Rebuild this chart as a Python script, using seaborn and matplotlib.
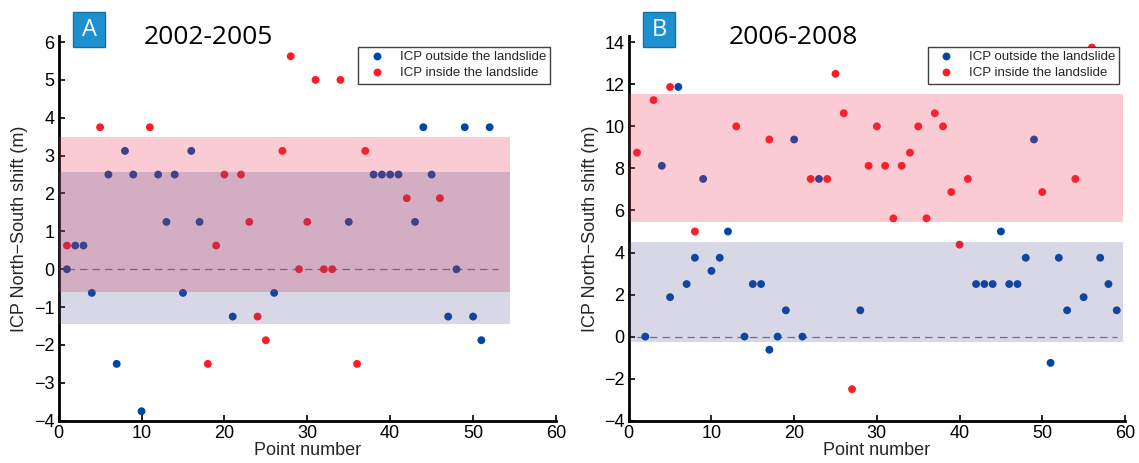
import numpy as np
import pandas as pd
import matplotlib
matplotlib.use("Agg")
import matplotlib.pyplot as plt
import seaborn as sns
from matplotlib.patches import Rectangle

# ---------------- data ----------------
# Panel A (2002-2005)
a_out_x = [1, 2, 3, 4, 6, 7, 8, 9, 10, 12, 13, 14, 15, 16, 17, 21, 26, 35, 38, 39,
           40, 41, 43, 44, 45, 47, 48, 49, 50, 51, 52, 53]
a_out_y = [0, 0.625, 0.625, -0.625, 2.5, -2.5, 3.125, 2.5, -3.75, 2.5, 1.25, 2.5, -0.625,
           3.125, 1.25, -1.25, -0.625, 1.25, 2.5, 2.5, 2.5, 2.5, 1.25, 3.75, 2.5, -1.25, 0,
           3.75, -1.25, -1.875, 3.75, 5]
a_in_x = [1, 5, 11, 18, 19, 20, 22, 23, 24, 25, 27, 28, 29, 30, 31, 32, 33, 34, 36, 37, 42, 46]
a_in_y = [0.625, 3.75, 3.75, -2.5, 0.625, 2.5, 2.5, 1.25, -1.25, -1.875, 3.125, 5.625, 0,
          1.25, 5, 0, 0, 5, -2.5, 3.125, 1.875, 1.875]
# Panel B (2006-2008)
b_out_x = [2, 4, 5, 6, 7, 8, 9, 10, 11, 12, 14, 15, 16, 17, 18, 19, 20, 21, 23, 28,
           42, 43, 44, 45, 46, 47, 48, 49, 51, 52, 53, 55, 57, 58, 59]
b_out_y = [0, 8.125, 1.875, 11.875, 2.5, 3.75, 7.5, 3.125, 3.75, 5, 0, 2.5, 2.5, -0.625, 0,
           1.25, 9.375, 0, 7.5, 1.25, 2.5, 2.5, 2.5, 5, 2.5, 2.5, 3.75, 9.375, -1.25, 3.75,
           1.25, 1.875, 3.75, 2.5, 1.25]
b_in_x = [1, 3, 5, 8, 13, 17, 22, 24, 25, 26, 27, 29, 30, 31, 32, 33, 34, 35, 36, 37, 38,
          39, 40, 41, 50, 54, 56]
b_in_y = [8.75, 11.25, 11.875, 5, 10, 9.375, 7.5, 7.5, 12.5, 10.625, -2.5, 8.125, 10, 8.125,
          5.625, 8.125, 8.75, 10, 5.625, 10.625, 10, 6.875, 4.375, 7.5, 6.875, 7.5, 13.75]

# band limits (m) and extents
a_in_band = (-0.59, 3.48)
a_out_band = (-1.455, 2.57)
a_band_end = 54.4
b_in_band = (5.43, 11.54)
b_out_band = (-0.27, 4.48)
b_band_end = 59.7

titles = ["2002-2005", "2006-2008"]
letters = ["A", "B"]
labels = ["ICP outside the landslide", "ICP inside the landslide"]

BLUE = "#0046a6"
RED = "#ff1c24"

sns.set_theme(style="white")
plt.rcParams["font.family"] = ["Liberation Sans", "DejaVu Sans"]

fig = plt.figure(figsize=(11.39, 4.63), dpi=100)
axA = fig.add_axes([0.0515, 0.0914, 0.4366, 0.8309])
axB = fig.add_axes([0.5520, 0.0914, 0.4357, 0.8309])

panels = [
    (axA, a_out_x, a_out_y, a_in_x, a_in_y, a_in_band, a_out_band, a_band_end, (-4, 6.16),
     [-4, -3, -2, -1, 0, 1, 2, 3, 4, 5, 6]),
    (axB, b_out_x, b_out_y, b_in_x, b_in_y, b_in_band, b_out_band, b_band_end, (-4, 14.3),
     [-4, -2, 0, 2, 4, 6, 8, 10, 12, 14]),
]

for i, (ax, ox, oy, ix, iy, inb, outb, bend, ylim, yt) in enumerate(panels):
    df = pd.DataFrame({
        "x": list(ox) + list(ix),
        "y": list(oy) + list(iy),
        "grp": [labels[0]] * len(ox) + [labels[1]] * len(ix),
    })
    allx = df["x"]
    ax.plot([allx.min(), allx.max()], [0, 0], ls=(0, (6, 4)), color="#7a7a7a",
            lw=0.9, zorder=1)
    sns.scatterplot(data=df, x="x", y="y", hue="grp", hue_order=labels,
                    palette=[BLUE, RED], s=32, linewidth=0, ax=ax, zorder=2)
    ax.fill_between([0, bend], inb[0], inb[1], color="#ec3050", alpha=0.25,
                    lw=0, zorder=3)
    ax.fill_between([0, bend], outb[0], outb[1], color="#4a4a8c", alpha=0.22,
                    lw=0, zorder=4)
    ax.set_xlim(0, 60)
    ax.set_ylim(*ylim)
    ax.set_xticks([0, 10, 20, 30, 40, 50, 60])
    ax.set_yticks(yt)
    ax.set_yticklabels([str(v).replace("-", "\u2212") for v in yt])
    ax.tick_params(direction="in", length=4, width=1.2, labelsize=13, pad=3,
                   colors="black", left=True, bottom=True)
    for sp in ["top", "right"]:
        ax.spines[sp].set_visible(False)
    for sp in ["left", "bottom"]:
        ax.spines[sp].set_linewidth(2.0)
        ax.spines[sp].set_color("black")
    ax.set_xlabel("Point number", fontsize=13, labelpad=0)
    ax.set_ylabel("ICP North\u2212South shift (m)", fontsize=13, labelpad=4)
    leg = ax.legend(loc="upper right", bbox_to_anchor=(0.9885, 0.972), fontsize=9.5,
                    frameon=True, fancybox=False, edgecolor="#404040", framealpha=1,
                    borderpad=0.32, handletextpad=0.6, labelspacing=0.3,
                    borderaxespad=0, handlelength=2.2, markerscale=1.0)
    leg.get_frame().set_linewidth(1.0)
    leg.set_zorder(10)
    ax.set_title("")

# titles and letter boxes
for x0, xt, letter, title in [(73, 208, "A", titles[0]), (643, 793, "B", titles[1])]:
    fig.patches.append(Rectangle((x0 / 1139, 1 - 47 / 463), 32 / 1139, 35 / 463,
                                 transform=fig.transFigure, facecolor="#1e90d0",
                                 edgecolor="#1670a8", lw=1.0))
    fig.text((x0 + 16) / 1139, 1 - 29.5 / 463, letter, color="white", fontsize=17,
             ha="center", va="center", family=["Open Sans", "DejaVu Sans"])
    fig.text(xt / 1139, 1 - 37 / 463, title, color="black", fontsize=19,
             ha="center", va="center", family=["Open Sans", "DejaVu Sans"])

fig.savefig("out.png", dpi=100)
